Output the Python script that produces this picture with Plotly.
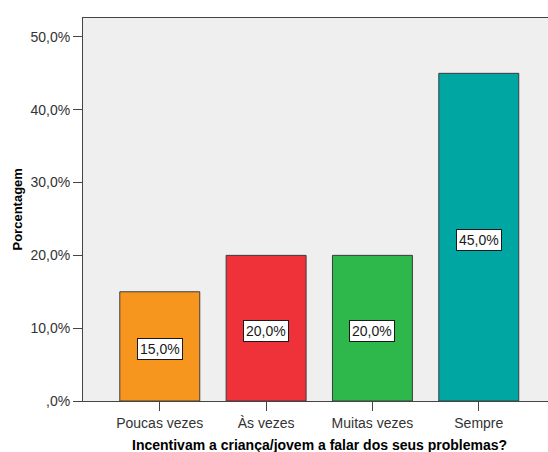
import plotly.graph_objects as go

categories = ["Poucas vezes", "Às vezes", "Muitas vezes", "Sempre"]
values = [15.0, 20.0, 20.0, 45.0]
colors = ["#F7961F", "#EF3139", "#2EB84B", "#00A6A2"]
y_tickvals = [0, 10, 20, 30, 40, 50]
y_ticktext = [",0%", "10,0%", "20,0%", "30,0%", "40,0%", "50,0%"]
x_title = "Incentivam a criança/jovem a falar dos seus problemas?"
y_title = "Porcentagem"

font_family = "Liberation Sans, Arial, sans-serif"
W, H = 548, 452
L, R, T, B = 83, 0, 18, 51
pw, ph = W - L - R, H - T - B

fig = go.Figure()
fig.add_trace(go.Bar(
    x=list(range(len(categories))),
    y=values,
    width=0.752,
    marker=dict(color=colors, line=dict(color="#3c3c3c", width=1)),
    hoverinfo="skip",
))

annotations = []
for i, v in enumerate(values):
    annotations.append(dict(
        x=i, y=v / 2, xref="x", yref="y",
        text=f"{v:.1f}%".replace(".", ","),
        showarrow=False, yshift=-3,
        font=dict(family=font_family, size=14, color="#1a1a1a"),
        bgcolor="white", bordercolor="#1a1a1a", borderwidth=1, borderpad=2,
    ))

annotations.append(dict(
    x=(319 - L) / pw, y=-(445 - (T + ph)) / ph, xref="paper", yref="paper",
    text=f"<b>{x_title}</b>", showarrow=False, xanchor="center", yanchor="middle",
    font=dict(family=font_family, size=14, color="black"),
))
annotations.append(dict(
    x=(17 - L) / pw, y=0.5, xref="paper", yref="paper",
    text=f"<b>{y_title}</b>", showarrow=False, textangle=-90,
    xanchor="center", yanchor="middle",
    font=dict(family=font_family, size=13, color="black"),
))

fig.update_layout(
    width=W, height=H,
    margin=dict(l=L, r=R, t=T, b=B, autoexpand=False),
    paper_bgcolor="white",
    plot_bgcolor="#EFEFEF",
    showlegend=False,
    font=dict(family=font_family, size=14, color="#333333"),
    annotations=annotations,
)

fig.update_xaxes(
    range=[-0.722, 3.651],
    tickmode="array", tickvals=list(range(len(categories))), ticktext=categories,
    ticks="outside", ticklen=9, tickcolor="#444444", tickwidth=1,
    showline=True, linecolor="#444444", linewidth=1, mirror=True,
    showgrid=False, zeroline=False,
    tickfont=dict(family=font_family, size=14, color="#333333"),
)
fig.update_yaxes(
    range=[0, 52.6],
    tickmode="array", tickvals=y_tickvals, ticktext=y_ticktext,
    ticks="outside", ticklen=9, tickcolor="#444444", tickwidth=1,
    showline=True, linecolor="#444444", linewidth=1,
    showgrid=False, zeroline=False,
    tickfont=dict(family=font_family, size=14, color="#333333"),
)

fig.write_html("out.html", config={"displayModeBar": False},
               post_script="document.body.style.margin='0';")
